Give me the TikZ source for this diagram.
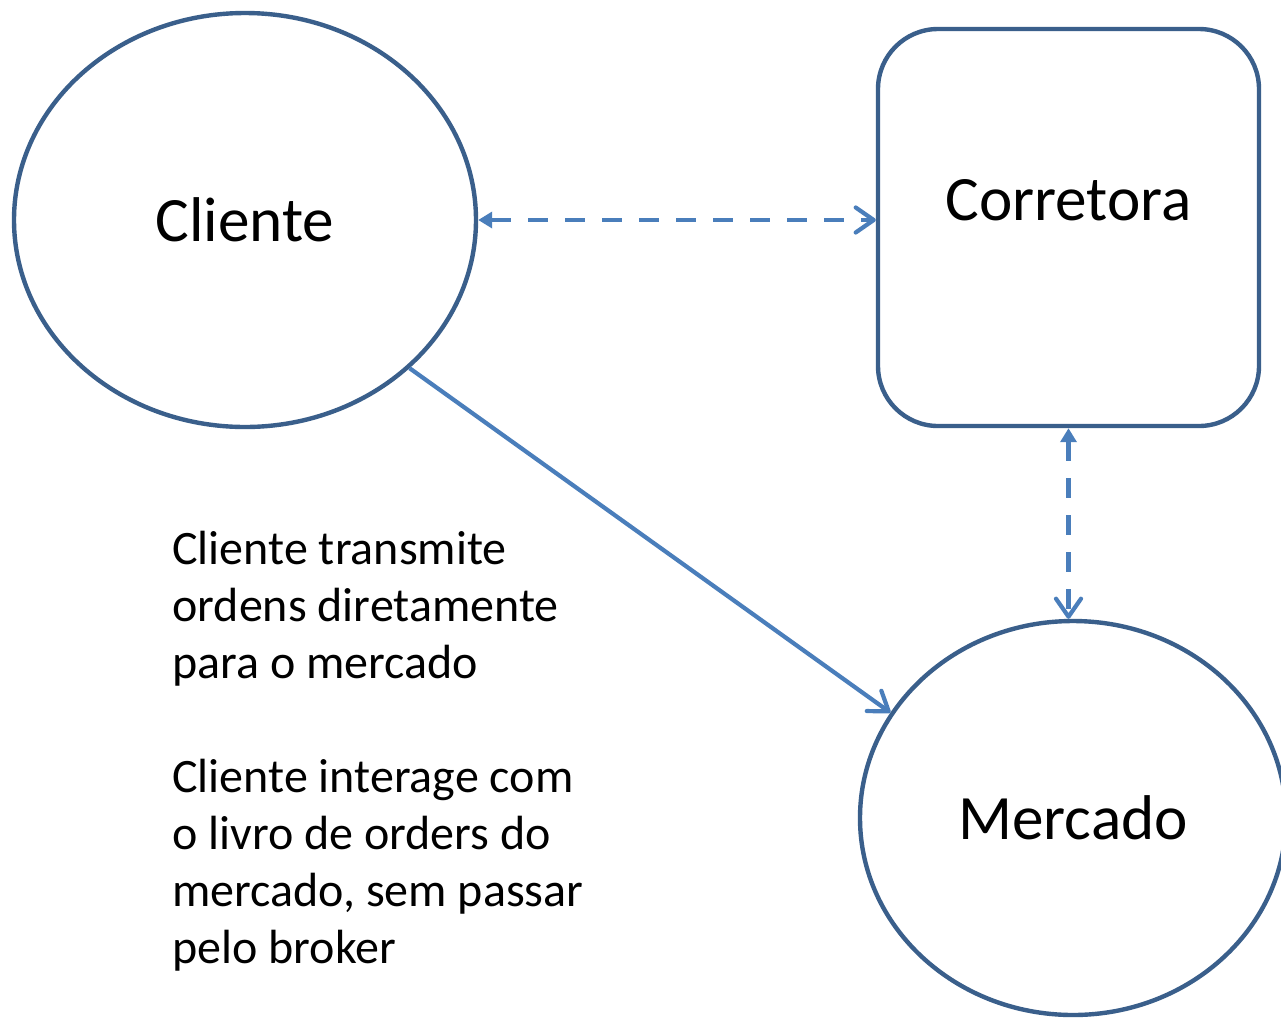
\documentclass[tikz,border=0pt]{standalone}
\usepackage{fontspec}
\setmainfont{Carlito}
\usetikzlibrary{arrows.meta,shapes.geometric}
\definecolor{outl}{HTML}{3A5F8B}
\definecolor{arr}{HTML}{4A7EBB}
\tikzset{
  bigfont/.style={font=\fontsize{31.6pt}{38pt}\selectfont},
  shapebox/.style={draw=outl,line width=2.2pt,fill=white,bigfont,inner sep=0pt},
  conn/.style={draw=arr,line width=2.1pt},
  dashconn/.style={conn,dash pattern=on 10pt off 8.5pt},
  tri/.tip={Triangle[length=7pt,width=8pt]},
  chev/.tip={Straight Barb[length=9pt,width=12.5pt,round]},
  bodytext/.style={font=\fontsize{24pt}{28.5pt}\selectfont,align=left,inner sep=0pt,anchor=north west}
}
\begin{document}
\begin{tikzpicture}[x=0.5pt,y=-0.5pt]
\useasboundingbox (0,0) rectangle (1281,1019);
\node[shapebox,ellipse,minimum width=231pt,minimum height=207pt] (cliente) at (245,220) {Cliente};
\node[shapebox,rectangle,rounded corners=30pt,minimum width=190.5pt,minimum height=198.5pt,
      label={[bigfont,yshift=13.5pt]center:Corretora}] (corretora) at (1068.5,227.5) {};
\node[shapebox,ellipse,minimum width=213pt,minimum height=197pt] (mercado) at (1073,818) {Mercado};
\draw[dashconn,{tri}-{chev}] (cliente.east) -- (cliente.east -| corretora.west);
\draw[dashconn,{tri}-{chev}] (corretora.south) -- (corretora.south |- mercado.north);
\draw[conn,-{chev}] (cliente.-42) -- (mercado.150.6);
\node[bodytext] (txt) at (172,531) {Cliente transmite\\ordens diretamente\\para o mercado\\[28.5pt]Cliente interage com\\o livro de orders do\\mercado, sem passar\\pelo broker};
\end{tikzpicture}
\end{document}
